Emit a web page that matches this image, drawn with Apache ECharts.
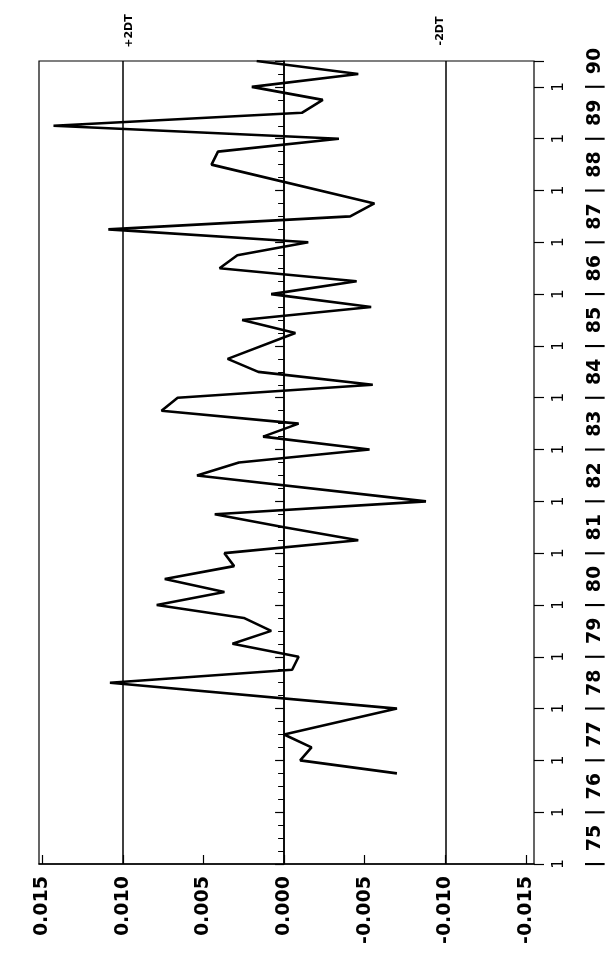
<!DOCTYPE html>
<html>
<head>
<meta charset="utf-8">
<script src="https://cdn.jsdelivr.net/npm/echarts@6/dist/echarts.min.js"></script>
<style>
html,body{margin:0;padding:0;background:#fff;}
#chart{width:612px;height:962px;}
</style>
</head>
<body>
<div id="chart"></div>
<script>
// quarter positions (year fractions) of the plotted vertices
var times = [1976.75, 1977.0, 1977.25, 1977.5, 1978.0, 1978.5, 1978.75, 1979.0, 1979.25, 1979.5,
  1979.75, 1980.0, 1980.25, 1980.5, 1980.75, 1981.0, 1981.25, 1981.5, 1981.75, 1982.0,
  1982.5, 1982.75, 1983.0, 1983.25, 1983.5, 1983.75, 1984.0, 1984.25, 1984.5, 1984.75,
  1985.25, 1985.5, 1985.75, 1986.0, 1986.25, 1986.5, 1986.75, 1987.0, 1987.25, 1987.5,
  1987.75, 1988.5, 1988.75, 1989.0, 1989.25, 1989.5, 1989.75, 1990.0, 1990.25, 1990.5];
var values = [-0.0070, -0.0010, -0.0017, 0.0000, -0.0070, 0.0108, -0.0005, -0.0009, 0.0032, 0.0008,
  0.0025, 0.0079, 0.0037, 0.0074, 0.0031, 0.0037, -0.0046, 0.0000, 0.0043, -0.0088,
  0.0054, 0.0028, -0.0053, 0.0013, -0.0009, 0.0076, 0.0066, -0.0055, 0.0016, 0.0035,
  -0.0007, 0.0026, -0.0054, 0.0008, -0.0045, 0.0040, 0.0029, -0.0015, 0.0109, -0.0041,
  -0.0056, 0.0045, 0.0041, -0.0034, 0.0143, -0.0011, -0.0024, 0.0020, -0.0046, 0.0017];
// reference lines (+2 sigma, zero, -2 sigma)
var refLines = [0.0096, 0.0, -0.0097];
var refLabels = ['+2DT', '', '-2DT'];
var valueTicks = [0.015, 0.010, 0.005, 0.000, -0.005, -0.010, -0.015];
var valueMin = -0.0155, valueMax = 0.0152;
var timeMin = 1975, timeMax = 1990.5;

var pairs = times.map(function (t, i) { return [values[i], t]; });

var chart = echarts.init(document.getElementById('chart'), null, {renderer: 'canvas'});
var FONT = 'DejaVu Sans';
var option = {
  animation: false,
  backgroundColor: '#fff',
  grid: {left: 39, right: 78, top: 61, bottom: 98, show: true, borderColor: '#000', borderWidth: 1.2, backgroundColor: 'transparent'},
  xAxis: [{
    type: 'value', min: valueMin, max: valueMax, inverse: true,
    position: 'bottom',
    axisLine: {show: true, lineStyle: {color: '#000', width: 1.5}},
    axisTick: {show: true, inside: true, length: 9, customValues: valueTicks, lineStyle: {color: '#000', width: 1.2}},
    splitLine: {show: false},
    axisLabel: {rotate: 90, margin: 12, color: '#000', fontFamily: FONT, fontSize: 19, fontWeight: 'bold',
      customValues: valueTicks,
      formatter: function (v) { return v.toFixed(3); }}
  }],
  yAxis: [{
    type: 'value', min: timeMin, max: timeMax, interval: 1, position: 'right',
    axisLine: {show: true, lineStyle: {color: '#000', width: 1.5}},
    axisTick: {show: true, inside: true, length: 9, lineStyle: {color: '#000', width: 1.2}},
    minorTick: {show: true, splitNumber: 4, length: 6, lineStyle: {color: '#000', width: 1}},
    splitLine: {show: false},
    axisLabel: {show: false}
  }, {
    type: 'value', min: timeMin, max: timeMax, interval: 1, position: 'right',
    axisLine: {show: false},
    axisTick: {show: true, inside: false, length: 10, lineStyle: {color: '#000', width: 1.2}},
    splitLine: {show: false},
    axisLabel: {rotate: 90, margin: 18, color: '#000', fontFamily: FONT, fontSize: 15,
      formatter: function (v) { return (Math.abs(v - Math.round(v)) < 1e-6) ? '1' : ''; }}
  }, {
    type: 'value', min: timeMin, max: timeMax, interval: 0.5, position: 'right',
    axisLine: {show: false}, axisTick: {show: false}, splitLine: {show: false},
    axisLabel: {rotate: 90, margin: 52, color: '#000', fontFamily: FONT, fontSize: 19, fontWeight: 'bold',
      formatter: function (v) {
        if (Math.abs(v - Math.round(v)) < 1e-6) { return v < timeMax ? '|' : ''; }
        return String(Math.floor(v) % 100);
      }}
  }],
  series: [{
    type: 'line', xAxisIndex: 0, yAxisIndex: 0, data: pairs, showSymbol: false, symbol: 'none',
    lineStyle: {color: '#000', width: 2.6}, itemStyle: {color: '#000'},
    markLine: {
      silent: true, symbol: ['none', 'none'], animation: false,
      label: {show: false},
      lineStyle: {color: '#000', width: 1.5, type: 'solid'},
      data: refLines.map(function (v) { return {xAxis: v}; })
    }
  }]
};
chart.setOption(option);

// rotated annotations above the reference lines
var graphics = [];
refLines.forEach(function (v, i) {
  if (!refLabels[i]) return;
  var px = chart.convertToPixel({xAxisIndex: 0}, v);
  graphics.push({
    type: 'text', x: px, y: 31, rotation: Math.PI / 2,
    style: {text: refLabels[i], fill: '#000', font: 'bold 11px ' + FONT, align: 'center', verticalAlign: 'middle'}
  });
});
chart.setOption({graphic: graphics});
</script>
</body>
</html>
